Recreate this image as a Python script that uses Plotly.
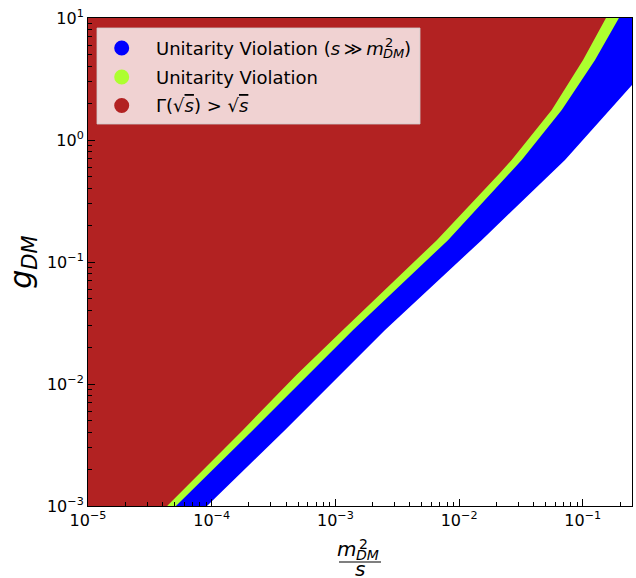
import math
import plotly.graph_objects as go

# ---- axis limits ----
X_MIN, X_MAX = 1e-5, 0.25
G_MIN, G_MAX = 1e-3, 10.0

# ---- region boundaries (x = m_DM^2/s, g = g_DM) ----
# upper edge of green band (Gamma(sqrt s) > sqrt s  region on the left)
width_x = [4.36e-5, 1.79e-4, 4.86e-4, 1.15e-3, 3.33e-3, 6.6e-3, 2.14e-2, 2.66e-2, 5.61e-2, 0.1005, 0.154]
width_g = [1e-3, 4.2e-3, 1.19e-2, 2.77e-2, 7.8e-2, 0.151, 0.537, 0.685, 1.76, 4.53, 10.0]
# lower edge of green band (Unitarity Violation)
unit_x = [5.14e-5, 2.16e-4, 1.39e-3, 8.13e-3, 3.21e-2, 6.76e-2, 0.1256, 0.196]
unit_g = [1e-3, 4.2e-3, 2.77e-2, 0.151, 0.685, 1.76, 4.53, 10.0]
# lower edge of blue band (Unitarity Violation, s >> m^2)
uhe_x = [9.16e-5, 3.92e-4, 2.52e-3, 1.52e-2, 7.18e-2, 0.25, 0.25]
uhe_g = [1e-3, 4.2e-3, 2.77e-2, 0.151, 0.685, 2.83, 10.0]

# ---- ticks ----
x_tick_vals = [1e-5, 1e-4, 1e-3, 1e-2, 1e-1]
x_tick_text = ["10<sup>\u22125</sup>", "10<sup>\u22124</sup>", "10<sup>\u22123</sup>",
               "10<sup>\u22122</sup>", "10<sup>\u22121</sup>"]
y_tick_vals = [1e-3, 1e-2, 1e-1, 1.0, 10.0]
y_tick_text = ["10<sup>\u22123</sup>", "10<sup>\u22122</sup>", "10<sup>\u22121</sup>",
               "10<sup>0</sup>", "10<sup>1</sup>"]
minor_digits = [2, 3, 4, 5, 6, 7, 8, 9]
x_minor_vals = [d * 10.0 ** e for e in range(-5, 0) for d in minor_digits if d * 10.0 ** e <= X_MAX]
y_minor_vals = [d * 10.0 ** e for e in range(-3, 1) for d in minor_digits]

RED = "#B22222"
GREEN = "#ADFF2F"
BLUE = "#0000FF"

legend_labels = ["Unitarity Violation (<i>s</i>\u2009\u226b\u2009<i>m</i>",
                 "Unitarity Violation",
                 "\u0393(\u221a<span style='text-decoration:overline'><i>s</i></span>) > \u221a<span style='text-decoration:overline'><i>s</i></span>"]
legend_colors = [BLUE, GREEN, RED]


def region(bx, bg):
    xs = [X_MIN] + list(bx) + [X_MIN]
    gs = [G_MIN] + list(bg) + [G_MAX]
    return xs, gs


fig = go.Figure()
for bx, bg, col in [(uhe_x, uhe_g, BLUE), (unit_x, unit_g, GREEN), (width_x, width_g, RED)]:
    xs, gs = region(bx, bg)
    fig.add_trace(go.Scatter(x=xs, y=gs, mode="lines", fill="toself", fillcolor=col,
                             line=dict(width=0, color=col), hoverinfo="skip", showlegend=False))

# ---- geometry helpers (pixel -> paper) ----
L, R, T, B = 88, 632, 18, 506
W, H = 636, 578


def px(x):
    return (x - L) / (R - L)


def py(y):
    return (B - y) / (B - T)


FONT = "DejaVu Sans"


def axis_style(tv, tt, mv):
    return dict(type="log", tickmode="array", tickvals=tv, ticktext=tt, showgrid=False, zeroline=False,
                ticks="inside", ticklen=7, tickwidth=1, tickcolor="black",
                showline=True, linecolor="black", linewidth=1, mirror=True,
                tickfont=dict(family=FONT, size=16, color="black"),
                minor=dict(ticks="inside", ticklen=4, tickwidth=1, tickcolor="black",
                           tickmode="array", tickvals=mv, showgrid=False))


fig.update_layout(
    width=W, height=H,
    margin=dict(l=L, r=W - R, t=T, b=H - B),
    paper_bgcolor="white", plot_bgcolor="white",
    xaxis=dict(range=[math.log10(X_MIN), math.log10(X_MAX)], **axis_style(x_tick_vals, x_tick_text, x_minor_vals)),
    yaxis=dict(range=[math.log10(G_MIN), math.log10(G_MAX)],
               title=dict(text="<i>g</i><sub><i>DM</i></sub>", font=dict(family=FONT, size=30, color="black"), standoff=6),
               **axis_style(y_tick_vals, y_tick_text, y_minor_vals)),
    showlegend=False,
)

shapes = []
annotations = []

# legend box
shapes.append(dict(type="rect", xref="paper", yref="paper", x0=px(97), x1=px(420), y0=py(28), y1=py(124),
                   fillcolor="rgba(255,255,255,0.8)", line=dict(color="rgba(204,204,204,0.8)", width=1)))
row_y = [48, 77, 105.5]
rad = 7.5
for yy, col, lab in zip(row_y, legend_colors, legend_labels):
    shapes.append(dict(type="circle", xref="paper", yref="paper",
                       x0=px(121.7 - rad), x1=px(121.7 + rad), y0=py(yy + rad), y1=py(yy - rad),
                       fillcolor=col, line=dict(width=0)))
    annotations.append(dict(xref="paper", yref="paper", x=px(155), y=py(yy), xanchor="left", yanchor="middle",
                            text=lab, showarrow=False, borderpad=0,
                            font=dict(family=FONT, size=18, color="black")))
# stacked sup/sub for m^2_DM in the first legend label
annotations.append(dict(xref="paper", yref="paper", x=px(384), y=py(42), xanchor="left", yanchor="middle",
                        text="2", showarrow=False, borderpad=0, font=dict(family=FONT, size=13, color="black")))
annotations.append(dict(xref="paper", yref="paper", x=px(382), y=py(54), xanchor="left", yanchor="middle",
                        text="<i>DM</i>", showarrow=False, borderpad=0, font=dict(family=FONT, size=13, color="black")))
annotations.append(dict(xref="paper", yref="paper", x=px(403), y=py(48), xanchor="left", yanchor="middle",
                        text=")", showarrow=False, borderpad=0, font=dict(family=FONT, size=18, color="black")))

# x-axis title as a fraction m^2_DM / s
annotations.append(dict(xref="paper", yref="paper", x=px(357), y=py(549), xanchor="right", yanchor="middle",
                        text="<i>m</i>", showarrow=False, borderpad=0, font=dict(family=FONT, size=20, color="black")))
annotations.append(dict(xref="paper", yref="paper", x=px(358), y=py(544), xanchor="left", yanchor="middle",
                        text="2", showarrow=False, borderpad=0, font=dict(family=FONT, size=14, color="black")))
annotations.append(dict(xref="paper", yref="paper", x=px(355), y=py(555), xanchor="left", yanchor="middle",
                        text="<i>DM</i>", showarrow=False, borderpad=0, font=dict(family=FONT, size=14, color="black")))
shapes.append(dict(type="line", xref="paper", yref="paper", x0=px(339), x1=px(381), y0=py(562), y1=py(562),
                   line=dict(color="black", width=1.2)))
annotations.append(dict(xref="paper", yref="paper", x=px(360), y=py(569), xanchor="center", yanchor="middle",
                        text="<i>s</i>", showarrow=False, borderpad=0, font=dict(family=FONT, size=20, color="black")))

fig.update_layout(shapes=shapes, annotations=annotations)
fig.write_html("out.html")
